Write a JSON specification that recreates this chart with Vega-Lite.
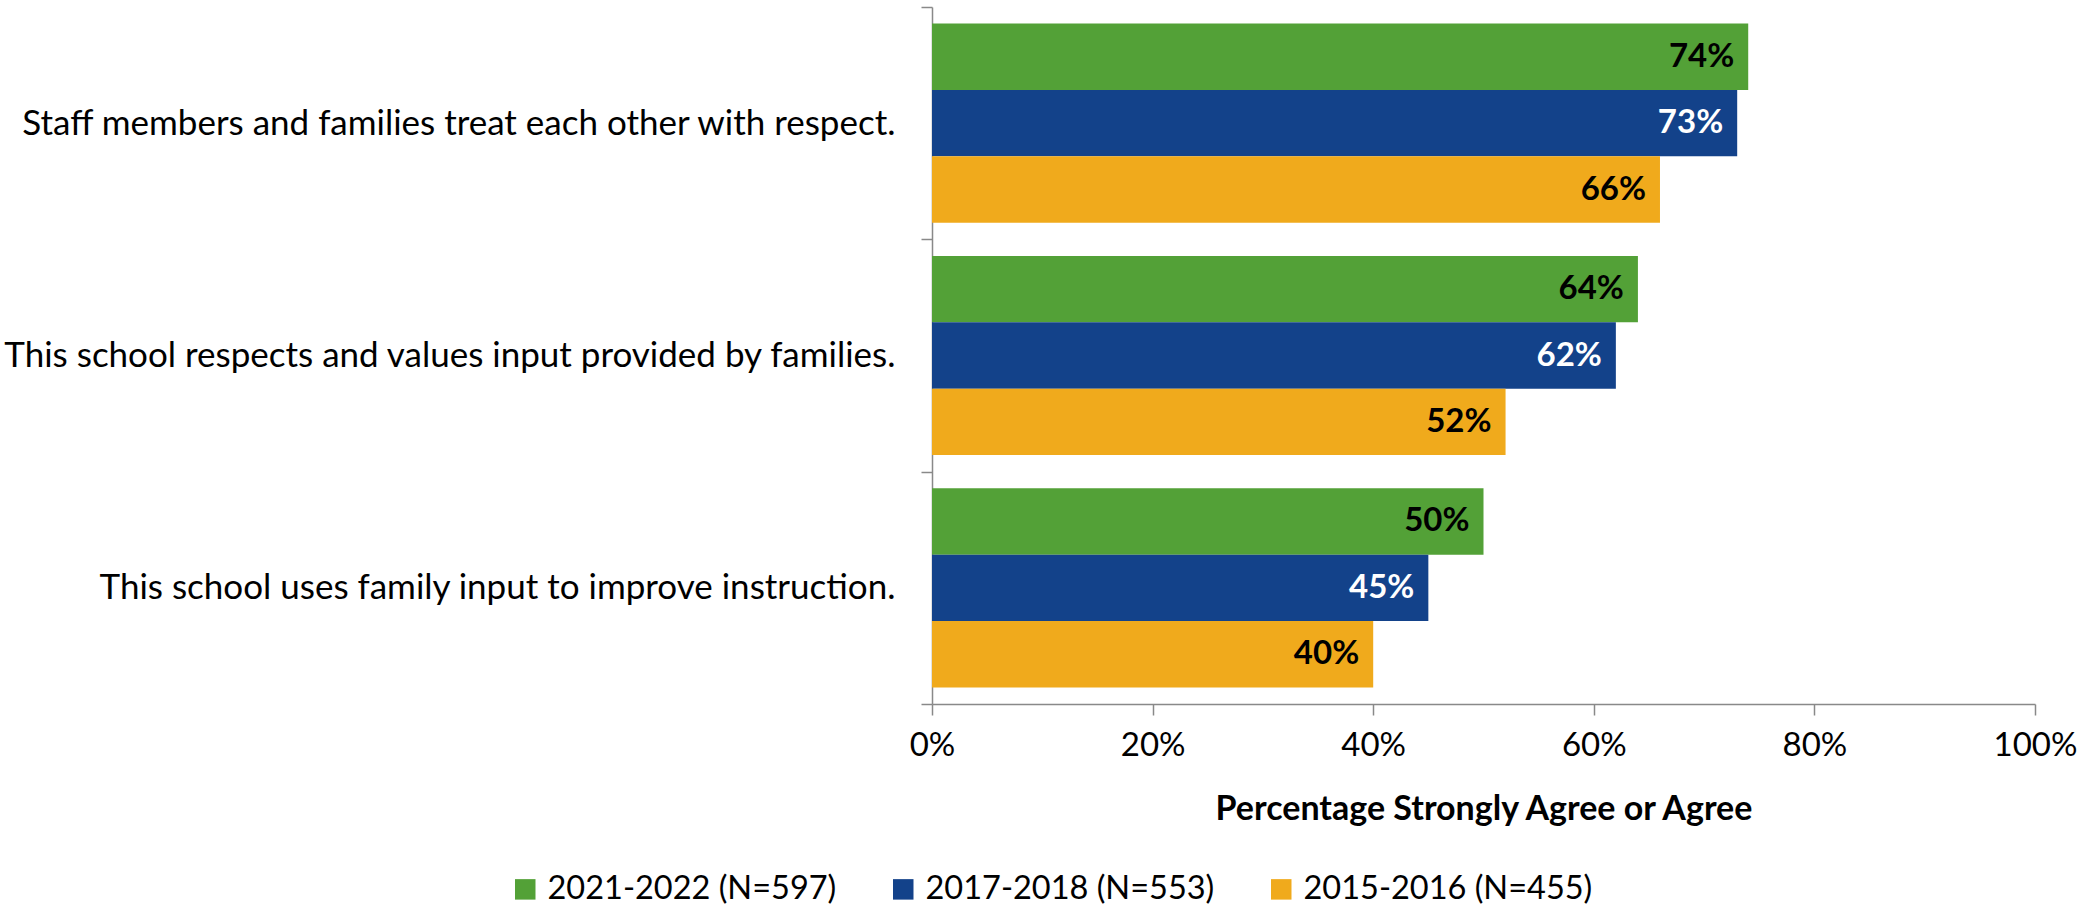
{
  "$schema": "https://vega.github.io/schema/vega-lite/v6.json",
  "width": 1103,
  "height": 697,
  "autosize": {"type": "none"},
  "padding": {"left": 932, "top": 7, "right": 59, "bottom": 205},
  "background": "white",
  "config": {"view": {"stroke": null}, "font": "Lato"},
  "data": {
    "values": [
      {"statement": "Staff members and families treat each other with respect.", "year": "2021-2022 (N=597)", "pct": 0.74},
      {"statement": "Staff members and families treat each other with respect.", "year": "2017-2018 (N=553)", "pct": 0.73},
      {"statement": "Staff members and families treat each other with respect.", "year": "2015-2016 (N=455)", "pct": 0.66},
      {"statement": "This school respects and values input provided by families.", "year": "2021-2022 (N=597)", "pct": 0.64},
      {"statement": "This school respects and values input provided by families.", "year": "2017-2018 (N=553)", "pct": 0.62},
      {"statement": "This school respects and values input provided by families.", "year": "2015-2016 (N=455)", "pct": 0.52},
      {"statement": "This school uses family input to improve instruction.", "year": "2021-2022 (N=597)", "pct": 0.50},
      {"statement": "This school uses family input to improve instruction.", "year": "2017-2018 (N=553)", "pct": 0.45},
      {"statement": "This school uses family input to improve instruction.", "year": "2015-2016 (N=455)", "pct": 0.40}
    ]
  },
  "encoding": {
    "y": {
      "field": "statement",
      "type": "nominal",
      "sort": null,
      "scale": {"paddingInner": 0, "paddingOuter": 0},
      "axis": {
        "title": null,
        "tickBand": "extent",
        "tickSize": 11,
        "tickColor": "#898989",
        "domainColor": "#898989",
        "domainWidth": 1.5,
        "tickWidth": 1.5,
        "labelPadding": 26,
        "labelFontSize": 35,
        "labelColor": "#000000",
        "labelLimit": 1000,
        "labelFont": "Lato"
      }
    },
    "yOffset": {
      "field": "year",
      "type": "nominal",
      "sort": ["2021-2022 (N=597)", "2017-2018 (N=553)", "2015-2016 (N=455)"],
      "scale": {"paddingInner": 0, "paddingOuter": 0.25}
    },
    "x": {
      "field": "pct",
      "type": "quantitative",
      "scale": {"domain": [0, 1], "nice": false},
      "axis": {
        "values": [0, 0.2, 0.4, 0.6, 0.8, 1],
        "format": ".0%",
        "grid": false,
        "tickSize": 11,
        "tickColor": "#898989",
        "domainColor": "#898989",
        "domainWidth": 1.5,
        "tickWidth": 1.5,
        "labelPadding": 14,
        "labelFontSize": 33,
        "labelColor": "#000000",
        "labelFlush": false,
        "title": "Percentage Strongly Agree or Agree",
        "titleFontSize": 34,
        "titleFontWeight": "bold",
        "titleColor": "#000000",
        "titlePadding": 30
      }
    }
  },
  "layer": [
    {
      "mark": {"type": "bar"},
      "encoding": {
        "color": {
          "field": "year",
          "type": "nominal",
          "sort": ["2021-2022 (N=597)", "2017-2018 (N=553)", "2015-2016 (N=455)"],
          "scale": {
            "domain": ["2021-2022 (N=597)", "2017-2018 (N=553)", "2015-2016 (N=455)"],
            "range": ["#53A137", "#13428A", "#F0AA1C"]
          },
          "legend": {
            "title": null,
            "orient": "none",
            "direction": "horizontal",
            "legendX": -423,
            "legendY": 866,
            "symbolType": "square",
            "symbolSize": 420,
            "symbolStrokeWidth": 0,
            "labelFontSize": 32.5,
            "labelColor": "#000000",
            "labelOffset": 6,
            "columnPadding": 50,
            "labelLimit": 500
          }
        }
      }
    },
    {
      "mark": {"type": "text", "align": "right", "baseline": "middle", "dx": -14, "fontWeight": "bold", "fontSize": 33},
      "encoding": {
        "text": {"field": "pct", "type": "quantitative", "format": ".0%"},
        "color": {
          "condition": {"test": "datum.year === '2017-2018 (N=553)'", "value": "#FFFFFF"},
          "value": "#000000"
        }
      }
    }
  ]
}
